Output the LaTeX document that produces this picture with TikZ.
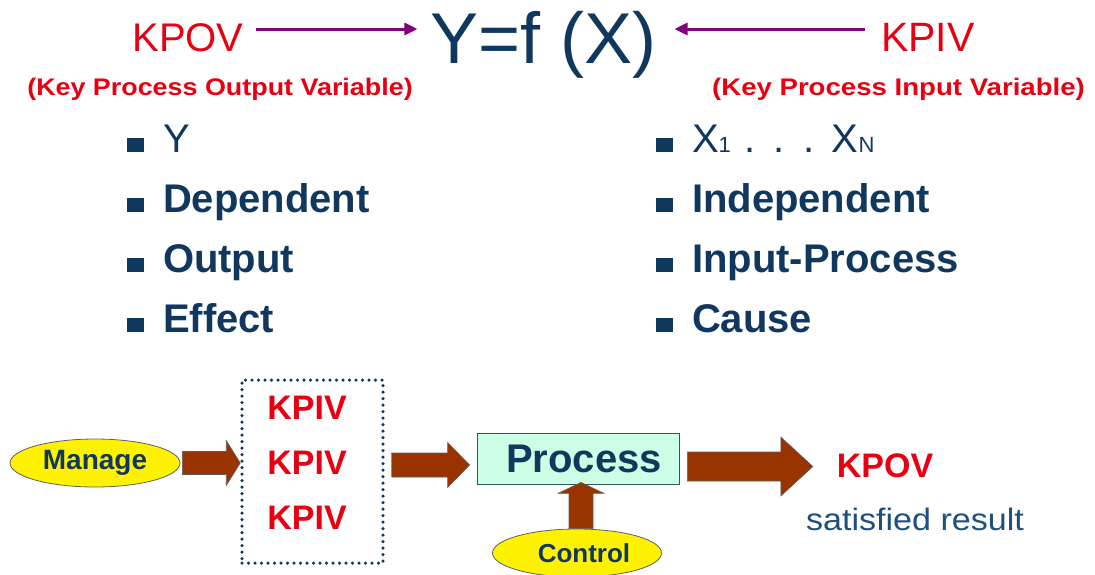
\documentclass[tikz,border=0pt]{standalone}
\usepackage{fontspec}
\setmainfont{Liberation Sans}
\usepackage{graphicx}
\usetikzlibrary{arrows.meta,shapes.geometric,calc}
\definecolor{kred}{RGB}{232,0,18}
\definecolor{navy}{RGB}{16,56,94}
\definecolor{kpurple}{RGB}{128,0,128}
\definecolor{kbrown}{RGB}{153,51,0}
\definecolor{mint}{RGB}{204,255,229}
\definecolor{edgegray}{RGB}{95,95,95}
\definecolor{procedge}{RGB}{40,90,90}
\definecolor{resultblue}{RGB}{30,80,125}
\newcommand{\fsz}[1]{\fontsize{#1}{#1}\selectfont}
\tikzset{
 txt/.style={inner sep=0pt, outer sep=0pt},
 bulletbox/.style={fill=navy, minimum width=17pt, minimum height=14pt, inner sep=0pt},
 itemtext/.style={txt, anchor=base west, text=navy, font=\fsz{40}\bfseries},
 redlabel/.style={txt, text=kred},
 purplearr/.style={draw=kpurple, line width=3pt, -{Triangle[length=13pt,width=12pt]}},
 harrow/.style n args={3}{to path={let \p1=(\tikztostart), \p2=(\tikztotarget) in
   (\x1,\y1+#1) -- (\x2-#3,\y1+#1) -- (\x2-#3,\y1+#2) -- (\x2,\y1) -- (\x2-#3,\y1-#2) -- (\x2-#3,\y1-#1) -- (\x1,\y1-#1) -- cycle}},
 varrow/.style n args={3}{to path={let \p1=(\tikztostart), \p2=(\tikztotarget) in
   (\x1+#1,\y1) -- (\x1+#1,\y2-#3) -- (\x1+#2,\y2-#3) -- (\x1,\y2) -- (\x1-#2,\y2-#3) -- (\x1-#1,\y2-#3) -- (\x1-#1,\y1) -- cycle}},
 block/.style={fill=kbrown, draw=edgegray, line width=0.6pt, line join=miter},
 oval/.style={ellipse, fill=yellow, draw=edgegray, line width=0.8pt, inner sep=0pt, text=navy},
}
\begin{document}
\begin{tikzpicture}[x=1pt,y=-1pt]
\useasboundingbox (0,0) rectangle (1095,574);
% top formula
\node[redlabel, anchor=base, font=\fsz{40}] (kpov) at (188,51) {KPOV};
\node[redlabel, anchor=base, font=\fsz{41}] (kpiv) at (928,51) {KPIV};
\node[txt, anchor=base, text=navy, font=\fsz{72}] (yfx) at (543.5,63) {Y=f (X)};
\coordinate (ay) at (0,29);
\draw[purplearr, shorten <=12pt, shorten >=13pt] (kpov.east |- ay) -- (yfx.west |- ay);
\draw[purplearr, shorten <=16pt, shorten >=18pt] (kpiv.west |- ay) -- (yfx.east |- ay);
\node[redlabel, anchor=base, font=\fsz{24}\bfseries] (kpovlbl) at (220,95) {\scalebox{1.12}[1]{(Key Process Output Variable)}};
\node[redlabel, anchor=base, font=\fsz{24}\bfseries] (kpivlbl) at (898.5,95) {\scalebox{1.15}[1]{(Key Process Input Variable)}};
% left bullets
\node[bulletbox] (lb1) at (135.5,145) {};
\node[bulletbox] (lb2) at (135.5,205) {};
\node[bulletbox] (lb3) at (135.5,265) {};
\node[bulletbox] (lb4) at (135.5,325) {};
\node[itemtext] (li1) at (163,152) {\mdseries Y};
\node[itemtext] (li2) at (163,212) {Dependent};
\node[itemtext] (li3) at (163,272) {Output};
\node[itemtext] (li4) at (163,332) {Effect};
% right bullets
\node[bulletbox] (rb1) at (664,145) {};
\node[bulletbox] (rb2) at (664,205) {};
\node[bulletbox] (rb3) at (664,265) {};
\node[bulletbox] (rb4) at (664,325) {};
\node[itemtext] (ri1) at (692,152) {\mdseries X{\fsz{22}1}\hspace{2pt} .\hspace{4pt} .\hspace{4pt} .\hspace{2pt} X{\fsz{22}N}};
\node[itemtext] (ri2) at (692,212) {Independent};
\node[itemtext] (ri3) at (692,272) {Input-Process};
\node[itemtext] (ri4) at (692,332) {Cause};
% bottom flow
\node[oval, minimum width=170pt, minimum height=48pt, font=\fsz{28}\bfseries] (manage) at (95,463) {Manage};
\node[draw=navy, line width=3.5pt, dash pattern=on 0pt off 6.5pt, line cap=round, minimum width=141pt, minimum height=183pt, inner sep=0pt] (kbox) at (312.5,471.5) {};
\node[redlabel, font=\fsz{34}\bfseries] (k1) at (307,408) {KPIV};
\node[redlabel, font=\fsz{34}\bfseries] (k2) at (307,463) {KPIV};
\node[redlabel, font=\fsz{34}\bfseries] (k3) at (307,518) {KPIV};
\node[draw=procedge, fill=mint, line width=0.8pt, minimum width=202pt, minimum height=51pt, inner sep=0pt, text=navy, font=\fsz{40}\bfseries] (proc) at (578,458.5) {\hspace{12pt}Process};
\node[oval, minimum width=169pt, minimum height=48pt, font=\fsz{26}\bfseries] (ctrl) at (577,553) {\hspace{14pt}Control};
\node[redlabel, anchor=base, font=\fsz{34}\bfseries] (kpovb) at (885,477) {KPOV};
\node[txt, anchor=base, text=resultblue, font=\fsz{31}] (sat) at (915,530) {\scalebox{1.1}[1]{satisfied result}};
% block arrows
\coordinate (a1s) at ([xshift=2pt]manage.east);
\path[block] (a1s) to[harrow={11.5pt}{22.5pt}{14pt}] (kbox.west);
\coordinate (a2s) at ([xshift=7pt,yshift=6.5pt]kbox.east);
\path[block] (a2s) to[harrow={12pt}{22.5pt}{22pt}] ([xshift=-7pt]proc.west);
\coordinate (a3s) at ([xshift=8pt,yshift=-8pt]proc.east);
\path[block] (a3s) to[harrow={14.5pt}{29.5pt}{32pt}] ([xshift=-24pt]kpovb.west);
\coordinate (a4s) at ([xshift=4pt]ctrl.north);
\path[block] (a4s) to[varrow={12pt}{23pt}{11pt}] ([yshift=2pt]proc.south);
\end{tikzpicture}
\end{document}
